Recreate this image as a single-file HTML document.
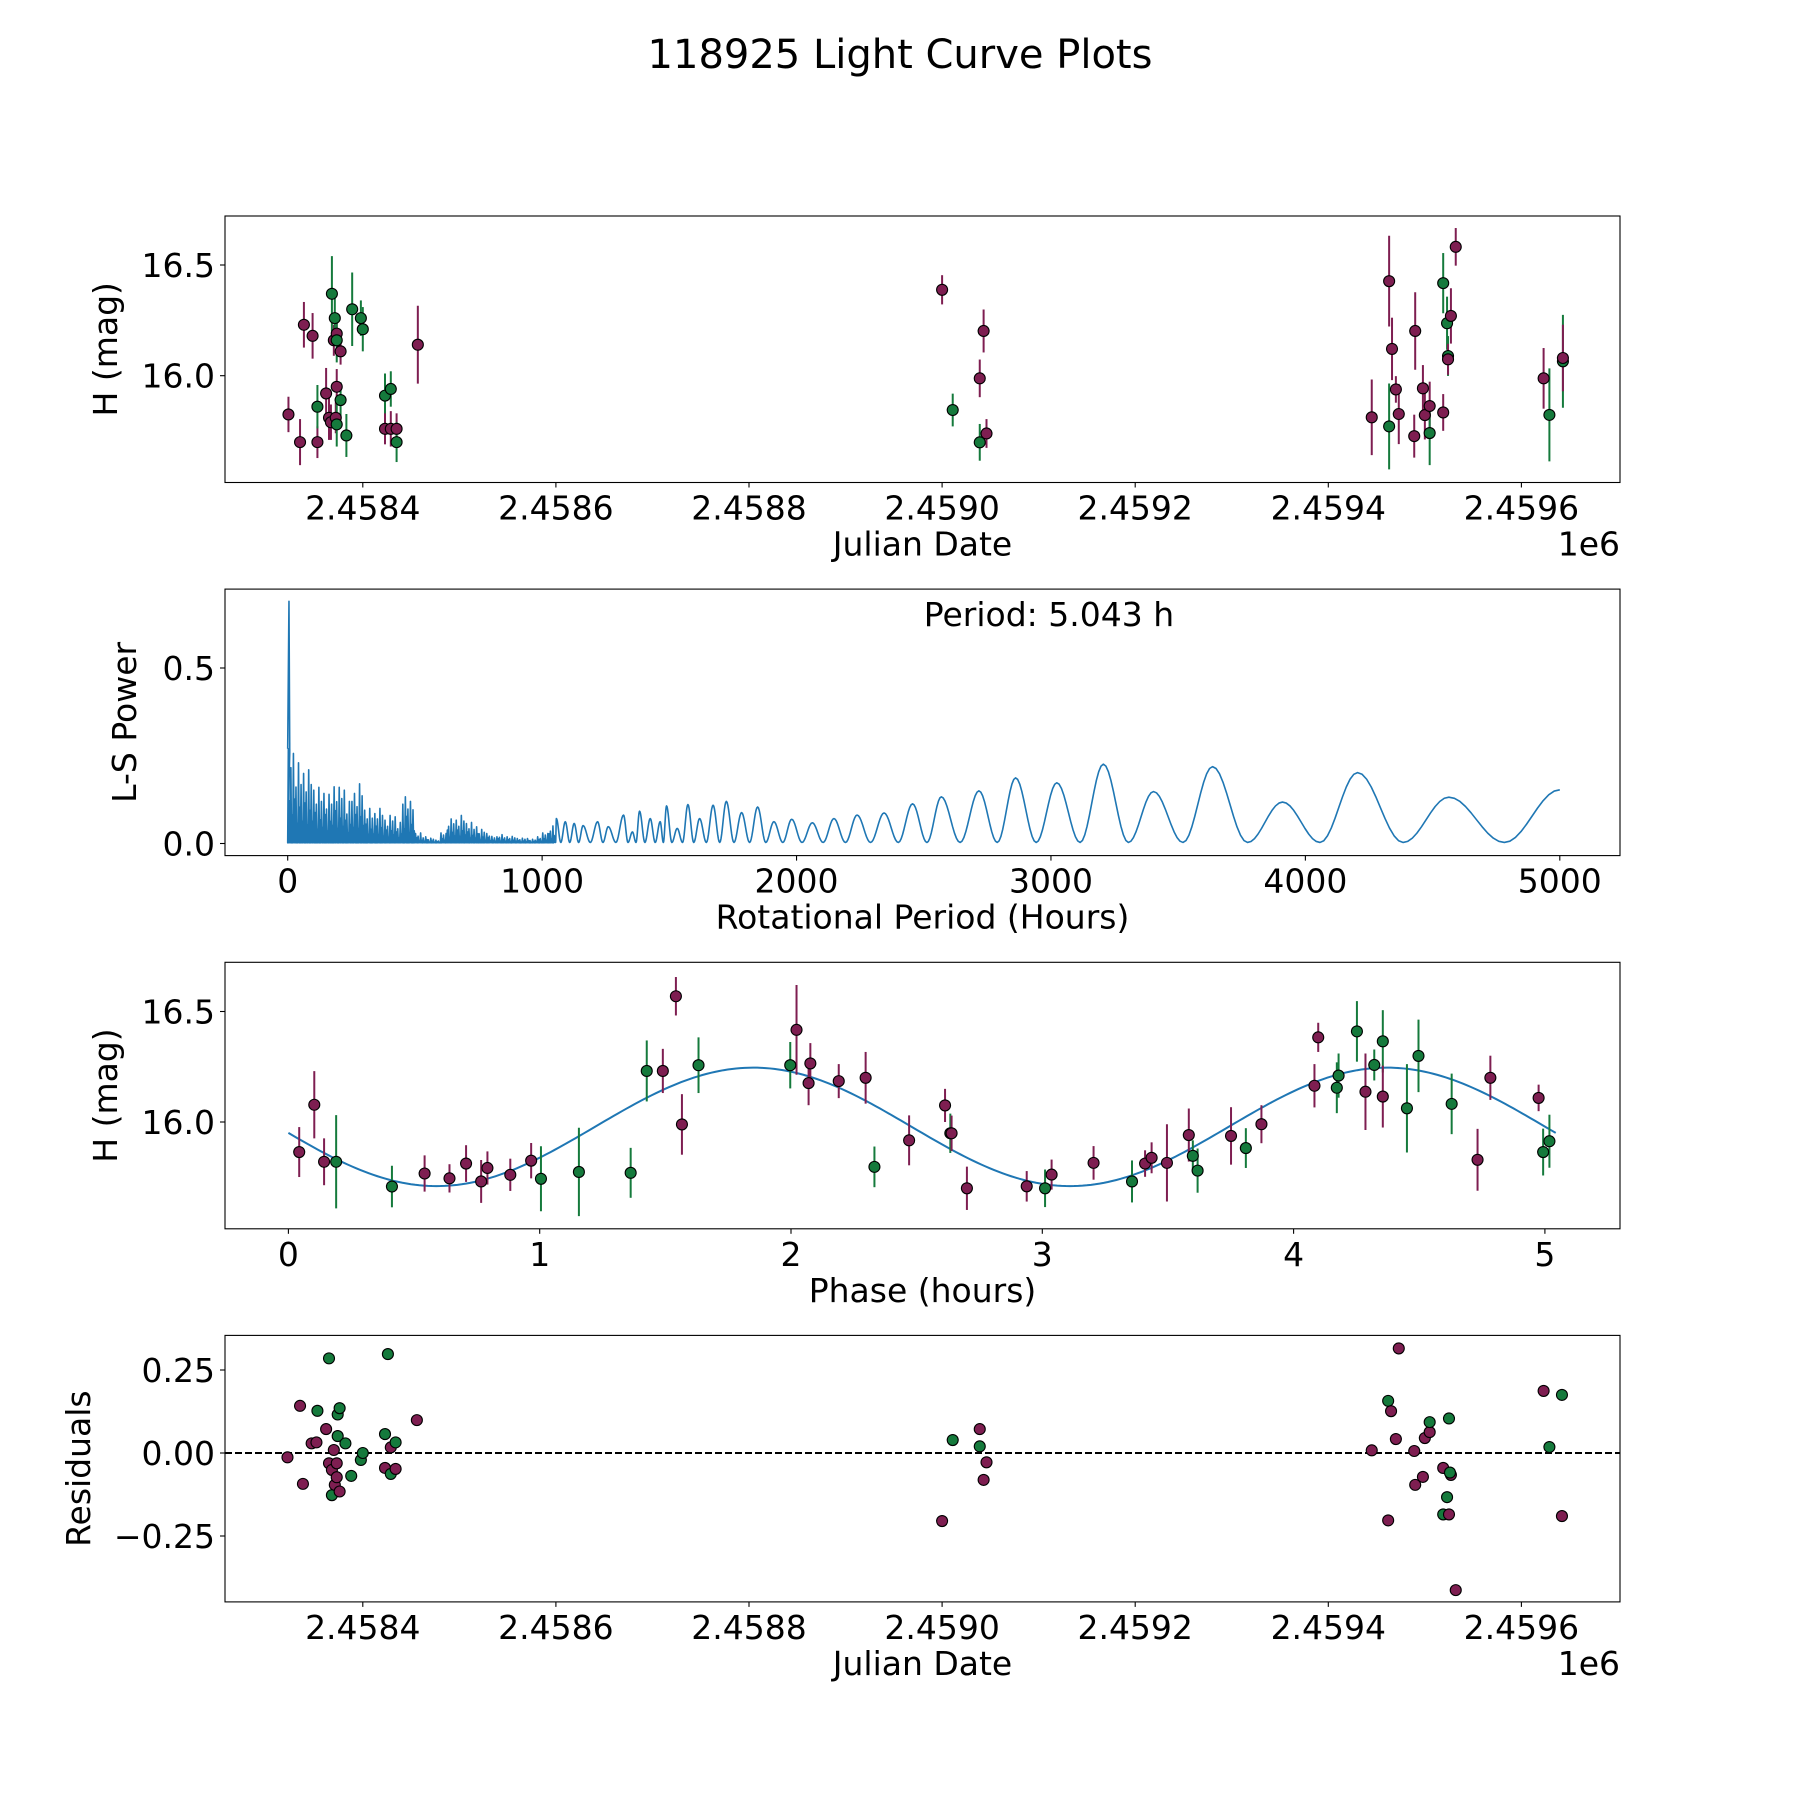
<!DOCTYPE html>
<html><head><meta charset="utf-8"><style>
html,body{margin:0;padding:0;background:#fff;}
svg{display:block;font-family:"DejaVu Sans","Liberation Sans",sans-serif;}
</style></head><body>
<svg id="fig" width="1800" height="1800" viewBox="0 0 1800 1800" xmlns="http://www.w3.org/2000/svg">
<rect width="1800" height="1800" fill="#fff"/>
<text x="900" y="68" font-size="40" text-anchor="middle">118925 Light Curve Plots</text>
<g id="root"></g>
</svg>
<script>
// ---------- data ----------
const topJD = [323,335,339,348,353,353,362,365,367,368,370,371,372,373,373,373,373,377,377,383,389,398,400,423,423,429,429,435,435,457,
1000,1043,1039,1011,1039,1046,1445,1463,1463,1466,1470,1473,1489,1490,1498,1500,1505,1505,1519,1519,1523,1527,1524,1524,1532,1623,1629,1643,1643];
const topMag = [15.825,15.70,16.23,16.18,15.70,15.86,15.92,15.81,15.79,16.37,16.16,16.26,15.81,16.19,16.16,15.95,15.78,15.89,16.11,15.73,16.30,16.26,16.21,15.91,15.76,15.76,15.94,15.76,15.70,16.14,
16.388,16.202,15.988,15.845,15.699,15.739,15.812,15.771,16.427,16.121,15.938,15.827,15.727,16.202,15.943,15.822,15.863,15.741,15.834,16.418,16.237,16.270,16.089,16.074,16.582,15.988,15.823,16.065,16.080];
const topErr = [.08,.104,.103,.103,.072,.098,.115,.1,.08,.17,.07,.12,.07,.06,.1,.08,.1,.08,.06,.097,.166,.08,.1,.1,.07,.08,.08,.07,.09,.176,
.066,.097,.085,.074,.083,.065,.171,.194,.205,.141,.06,.136,.097,.175,.105,.11,.11,.145,.083,.136,.12,.125,.09,.07,.085,.137,.21,.21,.15];
const topCol = ['p','p','p','p','p','g','p','p','p','g','p','g','p','p','g','p','g','g','p','g','g','g','g','g','p','p','g','p','g','p',
'p','p','p','g','g','p','p','g','p','p','p','p','p','p','p','p','p','g','p','g','g','p','g','p','p','p','g','g','p'];

const phX = [.043,.103,.142,.19,.412,.542,.641,.707,.767,.792,.883,.966,1.005,1.156,1.362,1.426,1.49,1.542,1.566,1.632,1.997,2.022,2.077,2.07,2.19,2.297,2.332,2.47,2.613,2.634,2.639,2.70,2.938,3.011,3.037,3.204,3.357,3.409,3.435,3.496,3.583,3.599,3.618,3.751,3.81,3.872,4.083,4.098,4.172,4.179,4.252,4.286,4.321,4.355,4.355,4.451,4.497,4.629,4.732,4.783,4.975,4.993,5.018];
const phMag = [15.864,16.078,15.82,15.82,15.708,15.767,15.745,15.812,15.731,15.792,15.761,15.825,15.743,15.774,15.77,16.231,16.231,16.569,15.989,16.257,16.257,16.417,16.265,16.176,16.185,16.2,15.797,15.917,16.075,15.949,15.949,15.70,15.709,15.70,15.762,15.815,15.731,15.812,15.838,15.815,15.941,15.847,15.78,15.937,15.882,15.99,16.164,16.383,16.155,16.21,16.41,16.137,16.258,16.365,16.115,16.062,16.299,16.082,15.829,16.2,16.109,15.864,15.913];
const phErr = [.113,.152,.106,.211,.094,.082,.064,.083,.097,.075,.073,.08,.147,.2,.113,.138,.1,.087,.137,.126,.105,.203,.092,.1,.077,.117,.092,.113,.075,.089,.08,.098,.069,.085,.068,.076,.095,.06,.07,.175,.12,.07,.1,.13,.09,.086,.098,.066,.115,.1,.137,.173,.07,.141,.14,.2,.164,.137,.14,.1,.06,.106,.12];
const phCol = ['p','p','p','g','g','p','p','p','p','p','p','p','g','g','g','g','p','p','p','g','g','p','p','p','p','p','g','p','p','g','p','p','p','g','p','p','g','p','p','p','p','g','g','p','g','p','p','p','g','g','g','p','g','g','p','g','g','g','p','p','p','g','g'];
const modelParams = [15.978, 0.268, 2.5215, 1.85, 5.043]; // mean, amplitude, half-period, phase of max, end

const resJD = [322,335,338,347,352,353,362,365,365,368,368,370,371,373,373,374,374,376,376,382,388,398,400,423,423,426,429,429,434,434,456,
1000,1011,1039,1039,1046,1043,1445,1462,1465,1462,1470,1473,1489,1490,1498,1500,1505,1505,1519,1519,1525,1523,1525,1527,1526,1532,1623,1629,1642,1642];
const resVal = [-0.013,0.142,-0.093,0.029,0.032,0.127,0.072,0.285,-0.031,-0.051,-0.127,0.009,-0.096,-0.073,-0.031,0.051,0.116,0.135,-0.116,0.029,-0.069,-0.021,0.0,0.057,-0.045,0.298,0.017,-0.063,0.032,-0.048,0.099,
-0.205,0.039,0.072,0.02,-0.028,-0.081,0.008,0.157,0.126,-0.203,0.042,0.315,0.006,-0.096,-0.072,0.045,0.063,0.093,-0.045,-0.185,-0.185,-0.133,0.104,-0.066,-0.059,-0.413,0.187,0.018,0.175,-0.19];
const resCol = ['p','p','p','p','p','g','p','g','p','p','g','p','p','p','p','g','g','g','p','g','g','g','g','g','p','g','p','g','g','p','p',
'p','g','p','g','p','p','p','g','p','p','p','p','p','p','p','p','p','g','p','g','p','g','g','p','g','p','p','g','g','p'];

const lsPeakH = [1056,1091,1126,1161,1218,1260,1320,1355,1383,1425,1464,1489,1531,1573,1619,1672,1724,1784,1847,1911,1981,2062,2147,2238,2344,2456,2569,2717,2861,3023,3206,3403,3635,3910,4205,4564,5000];
const lsPeakP = [.068,.059,.054,.048,.059,.045,.078,.030,.089,.068,.059,.104,.040,.108,.068,.106,.117,.085,.101,.059,.066,.056,.068,.078,.084,.110,.130,.147,.184,.170,.223,.145,.216,.115,.199,.129,.150];
const lsDenseStart = [0,25,50,75,100,125,150,175,200,225,250,275,300,325,350,375,400,425,450,475,500,525,550,575,600,625,650,675,700,725,750,775,800,825,850,875,900,925,950,975,1000,1025];
const lsDenseTop = [.27,.23,.21,.21,.16,.15,.14,.17,.16,.12,.15,.17,.10,.09,.10,.07,.08,.06,.14,.12,.03,.02,.015,.01,.03,.07,.07,.08,.06,.05,.04,.03,.02,.025,.02,.02,.015,.015,.012,.02,.03,.05];
const lsSpike = [5, 0.69];
const lsTexture = [1,.45,.8,.3,.95,.55,.7,.25]; // visual jitter of dense peaks within a bin

// ---------- helpers ----------
const NS="http://www.w3.org/2000/svg";
const root=document.getElementById('root');
function el(tag,attrs,parent){const e=document.createElementNS(NS,tag);for(const k in attrs)e.setAttribute(k,attrs[k]);(parent||root).appendChild(e);return e;}
const PUR="#7e1e51", GRN="#157a3c", BLUE="#1f77b4";
const L=225,R=1620;
const tops=[216,589.1,962.3,1335.4], H=266.5;
function lin(d0,d1,p0,p1){return v=>p0+(v-d0)*(p1-p0)/(d1-d0);}

function frame(i,name){
  const g=el('g',{});
  
  
  return g;
}
function spines(g,i){
  const r=el('rect',{x:L,y:tops[i],width:R-L,height:H,fill:'none',stroke:'#000','stroke-width':1.1},g);
  
  
}
function xticks(g,i,vals,labels,sx){
  const b=tops[i]+H;
  vals.forEach((v,k)=>{
    const x=sx(v);
    el('line',{x1:x,x2:x,y1:b,y2:b+5,stroke:'#000','stroke-width':1.1},g);
    const t=el('text',{x:x,y:b+37,'font-size':33,'text-anchor':'middle'},g);
    
    
    t.textContent=labels[k];
  });
}
function yticks(g,i,vals,labels,sy){
  vals.forEach((v,k)=>{
    const y=sy(v);
    el('line',{x1:L-5,x2:L,y1:y,y2:y,stroke:'#000','stroke-width':1.1},g);
    const t=el('text',{x:L-10,y:y+12,'font-size':33,'text-anchor':'end'},g);
    
    
    t.textContent=labels[k];
  });
}
function xlabel(g,i,txt,name){
  const t=el('text',{x:(L+R)/2,y:tops[i]+H+73,'font-size':33,'text-anchor':'middle'},g);
  
  
  t.textContent=txt;
}
function ylabel(g,i,txt,cx,name){
  const cy=tops[i]+H/2;
  const t=el('text',{x:cx+12,y:cy,'font-size':33,'text-anchor':'middle',transform:`rotate(-90 ${cx+12} ${cy})`},g);
  
  
  t.textContent=txt;
}
function offsetText(g,i){
  const t=el('text',{x:R,y:tops[i]+H+73,'font-size':33,'text-anchor':'end'},g);
  
  
  t.textContent='1e6';
}
function clip(id,i){
  const d=el('clipPath',{id:id});
  el('rect',{x:L,y:tops[i],width:R-L,height:H},d);
}
function point(g,x,y,c){
  const m=el('circle',{cx:x,cy:y,r:5.5,fill:c==='g'?GRN:PUR,stroke:'#000','stroke-width':1.1},g);
  
  
}
function errbar(g,x,y1,y2,c){
  const e=el('line',{x1:x,x2:x,y1:y1,y2:y2,stroke:c==='g'?GRN:PUR,'stroke-width':2},g);
  
  
}

const sxJD = lin(2458400,2458600,362.8,555.9);
const jdTicks=[2458400,2458600,2458800,2459000,2459200,2459400,2459600];
const jdLabels=['2.4584','2.4586','2.4588','2.4590','2.4592','2.4594','2.4596'];

// ---------- panel 1 ----------
(function(){
  const i=0, g=frame(i,'light-curve-panel');
  const sy=lin(16.0,16.5,375.7,265.0);
  clip('c0',0);
  const pg=el('g',{'clip-path':'url(#c0)'},g);
  topJD.forEach((j,k)=>{const x=sxJD(2458000+j);errbar(pg,x,sy(topMag[k]-topErr[k]),sy(topMag[k]+topErr[k]),topCol[k]);});
  topJD.forEach((j,k)=>{point(pg,sxJD(2458000+j),sy(topMag[k]),topCol[k]);});
  spines(g,i);
  xticks(g,i,jdTicks,jdLabels,sxJD);
  yticks(g,i,[16.0,16.5],['16.0','16.5'],sy);
  xlabel(g,i,'Julian Date','x-axis-title');
  ylabel(g,i,'H (mag)',105,'y-axis-title');
  offsetText(g,i);
})();

// ---------- panel 2 (periodogram) ----------
(function(){
  const i=1, g=frame(i,'periodogram-panel');
  const sx=lin(0,5000,287.7,1559.8), sy=lin(0,0.5,843.5,668);
  let pts=[[0,0.27],[lsSpike[0],lsSpike[1]],[lsSpike[0]+3,0.26]];
  let n=0;
  lsDenseStart.forEach((h0,k)=>{
    for(let h=h0;h<h0+25;h+=5){
      pts.push([h,0.002]);
      pts.push([h+2.5,lsDenseTop[k]*lsTexture[n%lsTexture.length]]);
      n++;
    }
  });
  let prevH=1050, prevP=0.0;
  lsPeakH.forEach((ph,k)=>{
    const pp=lsPeakP[k];
    const mid=(prevH+ph)/2;
    for(let s=1;s<=10;s++){const t=s/10;pts.push([prevH+(mid-prevH)*t, prevP*(1+Math.cos(Math.PI*t))/2+0.003]);}
    for(let s=1;s<=10;s++){const t=s/10;pts.push([mid+(ph-mid)*t, pp*(1-Math.cos(Math.PI*t))/2+0.003]);}
    prevH=ph; prevP=pp;
  });
  const d='M'+pts.map(p=>sx(p[0]).toFixed(2)+','+sy(p[1]).toFixed(2)).join(' L');
  const line=el('path',{d:d,fill:'none',stroke:BLUE,'stroke-width':1.6,'stroke-linejoin':'round'},g);
  
  
  spines(g,i);
  xticks(g,i,[0,1000,2000,3000,4000,5000],['0','1000','2000','3000','4000','5000'],sx);
  yticks(g,i,[0,0.5],['0.0','0.5'],sy);
  xlabel(g,i,'Rotational Period (Hours)','x-axis-title');
  ylabel(g,i,'L-S Power',124,'y-axis-title');
  const t=el('text',{x:sx(2500),y:626,'font-size':33},g);
  
  
  t.textContent='Period: 5.043 h';
})();

// ---------- panel 3 (phase) ----------
(function(){
  const i=2, g=frame(i,'phase-folded-panel');
  const sx=lin(0,1,288.4,539.7), sy=lin(16.0,16.5,1122,1011.5);
  const [mean,amp,per,pmax,end]=modelParams;
  let d='';
  for(let s=0;s<=300;s++){const p=end*s/300;const m=mean+amp*Math.cos(2*Math.PI*(p-pmax)/per);d+=(s?' L':'M')+sx(p).toFixed(2)+','+sy(m).toFixed(2);}
  const c=el('path',{d:d,fill:'none',stroke:BLUE,'stroke-width':2},g);
  
  
  phX.forEach((p,k)=>{errbar(g,sx(p),sy(phMag[k]-phErr[k]),sy(phMag[k]+phErr[k]),phCol[k]);});
  phX.forEach((p,k)=>{point(g,sx(p),sy(phMag[k]),phCol[k]);});
  spines(g,i);
  xticks(g,i,[0,1,2,3,4,5],['0','1','2','3','4','5'],sx);
  yticks(g,i,[16.0,16.5],['16.0','16.5'],sy);
  xlabel(g,i,'Phase (hours)','x-axis-title');
  ylabel(g,i,'H (mag)',105,'y-axis-title');
})();

// ---------- panel 4 (residuals) ----------
(function(){
  const i=3, g=frame(i,'residuals-panel');
  const sy=lin(0,0.25,1453,1370);
  const z=el('line',{x1:L,x2:R,y1:sy(0),y2:sy(0),stroke:'#000','stroke-width':2,'stroke-dasharray':'7,3'},g);
  
  
  resJD.forEach((j,k)=>{point(g,sxJD(2458000+j),sy(resVal[k]),resCol[k]);});
  spines(g,i);
  xticks(g,i,jdTicks,jdLabels,sxJD);
  yticks(g,i,[0.25,0,-0.25],['0.25','0.00','\u22120.25'],sy);
  xlabel(g,i,'Julian Date','x-axis-title');
  ylabel(g,i,'Residuals',78,'y-axis-title');
  offsetText(g,i);
})();
</script>
</body></html>
